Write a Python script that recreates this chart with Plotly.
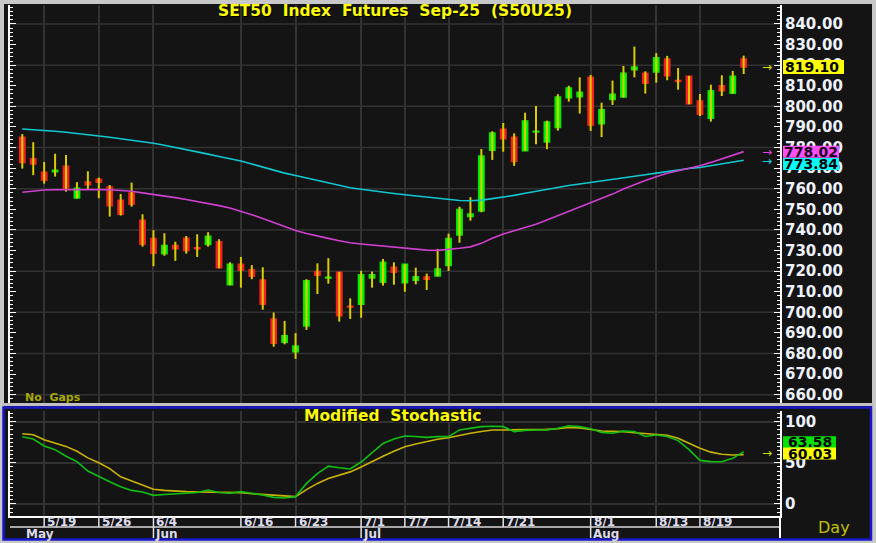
import plotly.graph_objects as go

# ---------------- data ----------------
bar_index = list(range(67))
opens = [785.0, 774.6, 768.0, 768.2, 770.9, 755.5, 763.3, 764.6, 760.9, 754.4,
         758.0, 744.7, 735.8, 728.5, 732.4, 736.0, 731.4, 732.9, 734.3, 713.4,
         723.3, 720.7, 715.7, 696.8, 685.5, 680.9, 693.4, 719.8, 716.7, 719.5,
         703.0, 703.9, 716.7, 714.6, 721.9, 714.4, 715.6, 717.2, 717.7, 722.7,
         737.6, 746.5, 749.2, 778.7, 788.9, 785.0, 778.5, 787.5, 782.7, 789.7,
         804.2, 804.7, 814.1, 791.6, 803.3, 804.6, 817.8, 816.1, 816.7, 823.0,
         812.5, 814.6, 802.6, 794.2, 810.0, 806.4, 823.0]
highs = [786.5, 782.6, 773.0, 777.0, 776.4, 763.2, 768.5, 765.4, 761.8, 757.5,
         763.0, 747.6, 739.9, 738.4, 734.3, 737.1, 737.9, 738.9, 735.5, 724.3,
         726.9, 722.9, 721.9, 699.9, 695.8, 689.9, 716.1, 723.8, 726.3, 719.7,
         706.8, 720.2, 719.8, 725.9, 724.3, 723.5, 721.7, 718.8, 730.8, 738.2,
         751.3, 755.9, 779.3, 787.9, 791.9, 786.9, 796.9, 800.2, 793.1, 805.9,
         810.0, 814.1, 815.2, 801.8, 812.5, 819.6, 829.0, 817.0, 825.8, 824.5,
         818.6, 814.8, 806.0, 810.5, 815.1, 817.2, 824.6]
lows = [769.8, 766.6, 762.5, 765.9, 758.6, 755.3, 759.9, 755.4, 746.5, 747.0,
        751.3, 731.9, 722.4, 727.5, 725.0, 728.5, 726.9, 731.9, 721.4, 713.2,
        712.0, 716.1, 701.3, 683.3, 684.5, 677.4, 691.5, 708.9, 713.9, 695.5,
        696.8, 697.4, 712.0, 713.0, 713.4, 710.0, 713.6, 710.9, 717.5, 720.1,
        733.8, 744.5, 748.6, 774.0, 778.0, 771.1, 778.3, 781.6, 779.2, 788.2,
        802.3, 796.5, 788.1, 785.1, 800.7, 804.2, 814.1, 806.2, 811.5, 812.7,
        808.1, 801.0, 795.3, 792.6, 805.0, 806.2, 815.7]
closes = [772.7, 772.0, 764.1, 769.0, 759.9, 760.2, 762.0, 763.2, 751.7, 747.6,
          752.5, 733.1, 728.7, 732.4, 730.9, 730.0, 730.9, 736.9, 721.7, 723.3,
          720.4, 717.5, 703.9, 685.0, 688.7, 683.7, 715.4, 718.0, 717.0, 698.4,
          702.6, 718.3, 718.3, 724.3, 719.5, 723.3, 717.3, 716.1, 721.1, 735.8,
          749.9, 747.8, 775.9, 787.1, 784.3, 773.2, 792.9, 787.9, 792.4, 804.6,
          808.9, 806.8, 790.8, 798.4, 805.9, 816.1, 819.1, 811.2, 823.6, 814.9,
          812.1, 801.3, 796.2, 807.6, 807.6, 814.6, 819.1]
ma_long = [789.0, 788.7, 788.3, 787.9, 787.4, 786.9, 786.2, 785.6, 785.0, 784.3,
           783.6, 782.8, 782.1, 781.1, 780.1, 779.0, 777.9, 776.8, 775.7, 774.6,
           773.5, 772.0, 770.5, 769.0, 767.6, 766.4, 765.2, 764.0, 762.8, 761.6,
           760.5, 759.8, 759.0, 758.3, 757.7, 757.1, 756.5, 755.9, 755.2, 754.6,
           754.3, 754.2, 754.5, 755.2, 755.9, 756.8, 757.8, 758.8, 759.8, 760.8,
           761.6, 762.3, 763.0, 763.8, 764.5, 765.3, 766.0, 766.8, 767.6, 768.4,
           769.2, 769.8, 770.3, 771.2, 772.0, 772.9, 773.84]
ma_short = [758.3, 759.0, 759.4, 759.5, 759.6, 759.6, 759.6, 759.6, 759.5, 759.3,
            758.8, 758.0, 757.3, 756.5, 755.7, 754.8, 753.9, 752.8, 751.8, 750.7,
            749.2, 747.4, 745.6, 743.6, 741.6, 739.7, 738.3, 737.0, 735.9, 734.8,
            733.8, 733.2, 732.7, 732.2, 731.7, 731.3, 730.8, 730.2, 730.1, 730.5,
            731.1, 731.8, 733.5, 736.0, 738.0, 739.6, 741.1, 742.8, 744.8, 746.9,
            748.9, 750.8, 753.0, 755.1, 757.4, 759.9, 762.0, 764.0, 765.8, 767.5,
            768.7, 769.9, 771.2, 772.8, 774.5, 776.2, 778.02]
stoch_k = [81.8, 79.0, 70.5, 66.0, 58.0, 51.5, 40.0, 33.0, 27.0, 21.0,
           16.5, 14.5, 10.5, 11.5, 12.5, 13.0, 14.0, 17.0, 14.0, 13.0,
           15.0, 13.0, 11.0, 8.0, 7.3, 8.9, 25.0, 37.0, 46.0, 44.0,
           42.5, 51.0, 62.0, 73.5, 79.0, 82.6, 82.0, 81.0, 81.8, 81.8,
           90.0, 92.0, 94.0, 94.5, 94.0, 88.0, 89.5, 90.0, 90.0, 92.0,
           95.0, 94.0, 91.5, 87.0, 86.0, 88.5, 88.0, 82.0, 83.8, 82.0,
           77.0, 66.0, 53.0, 51.5, 51.4, 55.5, 63.58]
stoch_d = [85.4, 84.2, 78.0, 74.0, 70.0, 64.0, 56.0, 50.0, 43.0, 33.0,
           28.0, 23.0, 18.0, 16.5, 15.5, 15.0, 14.6, 14.4, 14.3, 14.2,
           13.8, 12.5, 11.5, 10.3, 9.5, 8.9, 17.5, 25.0, 31.0, 35.0,
           39.0, 45.0, 52.0, 58.0, 64.0, 69.6, 73.0, 76.0, 78.6, 80.5,
           83.5, 86.0, 88.0, 89.9, 90.0, 90.0, 90.0, 90.5, 90.7, 91.5,
           93.0, 92.5, 91.0, 88.7, 88.2, 87.9, 86.5, 85.5, 84.7, 83.5,
           79.8, 74.0, 67.7, 63.0, 60.4, 59.5, 60.03]
tick_idx = [2, 7, 12, 20, 25, 31, 35, 39, 44, 52, 58, 62]
tick_lbl = ["5/19", "5/26", "6/4", "6/16", "6/23", "7/1", "7/7", "7/14", "7/21", "8/1", "8/13", "8/19"]
month_idx = [0, 12, 31, 52]
month_lbl = ["May", "Jun", "Jul", "Aug"]
last_price = 819.10
last_ma_short = 778.02
last_ma_long = 773.84
last_k = 63.58
last_d = 60.03

# ---------------- style ----------------
BG = "#141414"
GRID = "#323232"
AXW = "#eef2ff"
FONT = "DejaVu Sans"
W, H = 876, 543
ML, MR, MT, MB = 10, 96, 5, 27
PW = W - ML - MR
PH = H - MT - MB


def px_x(px):
    return (px - ML) / PW


def px_y(py):
    return (H - MB - py) / PH


fig = go.Figure()

# wicks
wx, wy = [], []
for i, lo, hi in zip(bar_index, lows, highs):
    wx += [i, i, None]
    wy += [lo, hi, None]
fig.add_trace(go.Scatter(x=wx, y=wy, mode="lines", line=dict(color="#d8cc00", width=2),
                         hoverinfo="skip", showlegend=False, xaxis="x", yaxis="y"))

body_hi = [max(o, c) for o, c in zip(opens, closes)]
body_lo = [min(o, c) for o, c in zip(opens, closes)]
fig.add_trace(go.Candlestick(
    x=bar_index, open=opens, high=body_hi, low=body_lo, close=closes,
    increasing=dict(line=dict(color="#00e800", width=1.5), fillcolor="#00ff00"),
    decreasing=dict(line=dict(color="#f02020", width=1.5), fillcolor="#ff2828"),
    whiskerwidth=0, showlegend=False, xaxis="x", yaxis="y"))

fig.add_trace(go.Scatter(x=bar_index, y=ma_long, mode="lines",
                         line=dict(color="#10c8d0", width=1.6), showlegend=False,
                         xaxis="x", yaxis="y"))
fig.add_trace(go.Scatter(x=bar_index, y=ma_short, mode="lines",
                         line=dict(color="#d040d0", width=1.6), showlegend=False,
                         xaxis="x", yaxis="y"))

fig.add_trace(go.Scatter(x=bar_index, y=stoch_d, mode="lines",
                         line=dict(color="#c8b400", width=1.6), showlegend=False,
                         xaxis="x2", yaxis="y2"))
fig.add_trace(go.Scatter(x=bar_index, y=stoch_k, mode="lines",
                         line=dict(color="#10c010", width=1.6), showlegend=False,
                         xaxis="x2", yaxis="y2"))

xr = [(ML - 22.3) / 10.93, (ML + PW - 22.3) / 10.93]
tickfont = dict(family=FONT, size=15, color=AXW, weight="bold")

fig.update_layout(
    width=W, height=H,
    margin=dict(l=ML, r=MR, t=MT, b=MB),
    paper_bgcolor=BG, plot_bgcolor=BG,
    showlegend=False,
    xaxis=dict(domain=[0, 1], anchor="y", range=xr, tickmode="array", tickvals=tick_idx,
               showticklabels=False, showgrid=True, gridcolor=GRID, gridwidth=1.5,
               zeroline=False, showline=False, ticks="", rangeslider=dict(visible=False)),
    yaxis=dict(domain=[px_y(403), 1], anchor="x", side="right", range=[656.0, 849.2],
               tick0=660, dtick=10, tickformat=".2f", ticks="inside", ticklen=6,
               tickcolor="white", tickwidth=1, showgrid=False, zeroline=False,
               minor=dict(dtick=2, ticks="inside", ticklen=3, tickcolor="white", showgrid=False),
               showline=True, linecolor="white", linewidth=2, mirror="ticks",
               tickfont=tickfont),
    xaxis2=dict(domain=[0, 1], anchor="y2", range=xr, tickmode="array", tickvals=tick_idx,
                showticklabels=False, showgrid=True, gridcolor=GRID, gridwidth=1.5,
                zeroline=False, showline=True, linecolor="white", linewidth=2, ticks=""),
    yaxis2=dict(domain=[0, px_y(411)], anchor="x2", side="right", range=[-14.6, 113],
                tick0=0, dtick=50, ticks="inside", ticklen=6, tickcolor="white",
                showgrid=True, gridcolor=GRID, gridwidth=1.5, zeroline=False,
                minor=dict(dtick=5, ticks="inside", ticklen=3, tickcolor="white", showgrid=False),
                showline=True, linecolor="white", linewidth=2, mirror="ticks",
                tickfont=tickfont),
)

shapes = []
# horizontal grid of the price panel
for v in range(660, 841, 20):
    shapes.append(dict(type="line", xref="paper", yref="y", x0=0, x1=1, y0=v, y1=v,
                       line=dict(color=GRID, width=1.5), layer="below"))
# outer frame
shapes.append(dict(type="rect", xref="paper", yref="paper", x0=px_x(2), x1=px_x(874),
                   y0=px_y(541), y1=px_y(2), line=dict(color="#c8c8c8", width=4)))
# separator between panels
shapes.append(dict(type="line", xref="paper", yref="paper", x0=px_x(2), x1=px_x(874),
                   y0=px_y(404.5), y1=px_y(404.5), line=dict(color="#c0c0c0", width=3)))
# blue frame of stochastic panel
shapes.append(dict(type="rect", xref="paper", yref="paper", x0=px_x(3.5), x1=px_x(871),
                   y0=px_y(539.5), y1=px_y(407.5), line=dict(color="#1818c8", width=2.5)))
# date axis structure
shapes.append(dict(type="line", xref="paper", yref="paper", x0=0, x1=1,
                   y0=px_y(527), y1=px_y(527), line=dict(color="#d8d8d8", width=1.5)))
shapes.append(dict(type="line", xref="paper", yref="paper", x0=1, x1=1,
                   y0=px_y(538), y1=px_y(516), line=dict(color="white", width=2)))
for t in tick_idx:
    bottom = 538 if t in month_idx else 527
    shapes.append(dict(type="line", xref="x2", yref="paper", x0=t, x1=t,
                       y0=px_y(bottom), y1=px_y(516), line=dict(color="#e0e0e0", width=1.5)))


# value label boxes
def value_box(yref, val, color, c, x0=783, x1=839, h=6):
    return dict(type="rect", xref="paper", yref=yref, x0=px_x(x0), x1=px_x(x1),
                ysizemode="pixel", yanchor=val, y0=c - h, y1=c + h,
                fillcolor=color, line=dict(width=0))


shapes.append(value_box("y", last_price, "#ffff00", 0, 783, 844, 7))
shapes.append(value_box("y", last_ma_short, "#ff50ff", 0))
shapes.append(value_box("y", last_ma_long, "#00ffff", -3.7))
shapes.append(value_box("y2", last_k, "#00e000", 9.5, 783, 836))
shapes.append(value_box("y2", last_d, "#ffff00", 1.0, 783, 836))

annotations = []


def bold(size, color):
    return dict(family=FONT, size=size, color=color, weight="bold")


annotations.append(dict(text="SET50\u00a0\u00a0Index\u00a0\u00a0Futures\u00a0\u00a0Sep-25\u00a0\u00a0(S50U25)",
                        xref="paper", yref="paper", x=px_x(395), y=px_y(11),
                        xanchor="center", yanchor="middle", showarrow=False,
                        font=dict(family=FONT, size=15.5, color="#ffff00", weight="bold",
                                  shadow="1px 1px 1px #000")))
annotations.append(dict(text="Modified\u00a0\u00a0Stochastic", xref="paper", yref="paper",
                        x=px_x(392), y=px_y(415.5), xanchor="center", yanchor="middle",
                        showarrow=False,
                        font=dict(family=FONT, size=15.5, color="#ffff00", weight="bold",
                                  shadow="1px 1px 1px #000")))
annotations.append(dict(text="No\u00a0\u00a0Gaps", xref="paper", yref="paper", x=px_x(23),
                        y=px_y(397), xanchor="left", yanchor="middle", showarrow=False,
                        font=bold(11, "#a8a800")))
annotations.append(dict(text="Day", xref="paper", yref="paper", x=px_x(834), y=px_y(527),
                        xanchor="center", yanchor="middle", showarrow=False,
                        font=dict(family=FONT, size=16, color="#c0c000")))

for t, lbl in zip(tick_idx, tick_lbl):
    annotations.append(dict(text=lbl, xref="x2", yref="paper", x=t, xshift=1,
                            y=px_y(522), xanchor="left", yanchor="middle", showarrow=False,
                            font=bold(12, "#dcdcec")))
for t, lbl in zip(month_idx, month_lbl):
    annotations.append(dict(text=lbl, xref="x2", yref="paper", x=t, xshift=2 if t == 0 else 0,
                            y=px_y(533.5), xanchor="left", yanchor="middle", showarrow=False,
                            font=bold(12, "#dcdcec")))


# value labels
def value_text(yref, val, c, color="#000000", xc=811):
    return dict(text=f"{val:.2f}", xref="paper", yref=yref, x=px_x(xc), y=val, yshift=c,
                xanchor="center", yanchor="middle", showarrow=False, font=bold(14, color))


annotations.append(value_text("y", last_price, 0, xc=812))
annotations.append(value_text("y", last_ma_short, 0, "#200020"))
annotations.append(value_text("y", last_ma_long, -3.7))
annotations.append(value_text("y2", last_k, 9.5, xc=809.5))
annotations.append(value_text("y2", last_d, 1.0, xc=809.5))

# arrows
for yref, val, color, c in [("y", last_price, "#e0e000", 0), ("y", last_ma_short, "#e040e0", 0),
                            ("y", last_ma_long, "#00d8e0", -1), ("y2", last_d, "#c8e000", 1.5)]:
    annotations.append(dict(text="→", xref="paper", yref=yref, x=px_x(767), y=val, yshift=c,
                            xanchor="center", yanchor="middle", showarrow=False,
                            font=dict(family=FONT, size=12, color=color)))

fig.update_layout(shapes=shapes, annotations=annotations)
fig.write_html("out.html", config={"displayModeBar": False},
               post_script="document.body.style.margin='0';document.body.style.overflow='hidden';")
